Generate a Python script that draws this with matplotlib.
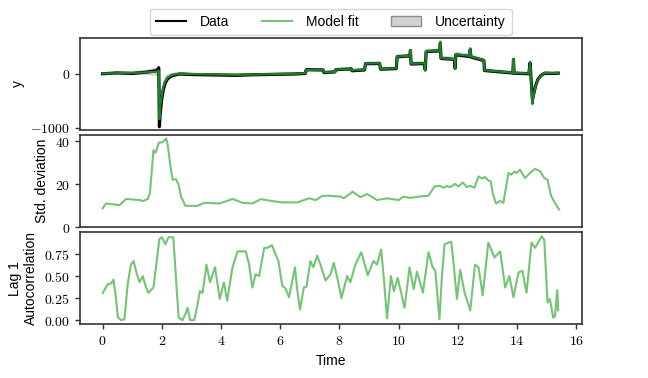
import numpy as np
import matplotlib
matplotlib.use('Agg')
import matplotlib.pyplot as plt
from matplotlib.lines import Line2D
from matplotlib.patches import Patch
from matplotlib.ticker import MultipleLocator, FormatStrFormatter

plt.rcParams['font.family'] = ['Liberation Sans', 'DejaVu Sans']
plt.rcParams['mathtext.fontset'] = 'cm'
plt.rcParams['font.size'] = 10

# --- top panel: data, model fit and its uncertainty ---
fit_t = [0.0, 0.5, 1.0, 1.5, 1.85, 1.9, 1.92, 1.95, 2.0, 2.05, 2.12, 2.2, 2.35, 2.6,
         3.0, 3.5, 4.0, 4.5, 5.0, 5.5, 6.0, 6.5, 6.85, 6.88, 7.45, 7.48, 7.85, 7.88,
         8.4, 8.43, 8.85, 8.88, 9.36, 9.39, 9.92, 9.95, 10.38, 10.40, 10.42, 10.88,
         10.90, 10.93, 11.39, 11.41, 11.43, 11.89, 11.91, 11.93, 12.40, 12.42, 12.44,
         12.88, 12.90, 13.4, 13.86, 13.88, 13.90, 14.40, 14.44, 14.52, 14.56, 14.62,
         14.7, 14.8, 14.94, 15.2, 15.39]
fit_y = [5, 10, 15, 25, 40, 55, -840, -600, -400, -250, -140, -70, -20, 0,
         -5, -10, -15, -20, -15, -10, -5, 0, 10, 70, 75, 25, 30, 80,
         85, 65, 75, 190, 195, 90, 100, 320, 335, 440, 185, 195,
         60, 420, 430, 592, 290, 270, 90, 360, 330, 470, 320,
         250, 65, 40, 20, 280, 15, 5, 220, -560, -400, -250,
         -120, -40, 15, 12, 15]
fit_sd = [25, 25, 30, 50, 80, 90, 120, 130, 130, 120, 100, 70, 40, 30,
          25, 25, 25, 25, 25, 25, 25, 25, 25, 30, 30, 30, 30, 30,
          30, 30, 30, 35, 35, 35, 35, 40, 40, 40, 40, 40,
          40, 40, 40, 45, 45, 45, 45, 45, 45, 45, 45,
          40, 35, 35, 35, 35, 35, 35, 45, 90, 90, 80,
          60, 45, 35, 30, 30]
data_y = [0, 15, 5, 30, 60, 110, -980, -720, -470, -300, -170, -90, -35, -5,
          -15, -20, -25, -30, -20, -15, -10, -5, 5, 75, 70, 20, 35, 75,
          90, 55, 70, 185, 190, 85, 95, 315, 330, 430, 180, 190,
          70, 410, 425, 570, 285, 265, 100, 350, 320, 450, 310,
          245, 60, 35, 15, 260, 10, 0, 200, -480, -380, -240,
          -110, -35, 10, 5, 10]

# --- middle panel: standard deviation ---
sd_t = [0.0, 0.12, 0.57, 0.8, 1.25, 1.36, 1.53, 1.6, 1.72, 1.79, 1.84, 1.9, 2.03,
        2.15, 2.2, 2.31, 2.37, 2.48, 2.57, 2.65, 2.8, 3.21, 3.43, 3.94, 4.17,
        4.39, 4.73, 5.06, 5.35, 5.74, 6.07, 6.58, 6.97, 7.2, 7.42, 7.65, 8.04,
        8.15, 8.45, 8.71, 8.94, 9.27, 9.61, 10.0, 10.17, 10.39, 10.68, 11.01,
        11.21, 11.4, 11.52, 11.63, 11.74, 11.91, 12.02, 12.17, 12.3, 12.42,
        12.56, 12.7, 12.81, 12.92, 13.03, 13.11, 13.18, 13.29, 13.43, 13.54,
        13.71, 13.8, 13.91, 13.99, 14.1, 14.27, 14.44, 14.61, 14.78, 14.92,
        15.03, 15.15, 15.28, 15.42]
sd_y = [8.7, 11.0, 10.2, 13.1, 12.6, 12.1, 13.1, 15.8, 35.8, 34.6, 36.5, 39.3, 39.5,
        41.2, 38.5, 26.7, 22.0, 22.3, 19.7, 14.2, 9.9, 9.9, 11.3, 11.0, 12.0,
        13.1, 11.3, 11.0, 13.0, 12.1, 11.5, 11.5, 13.4, 12.6, 14.5, 14.6, 14.2,
        13.4, 16.5, 13.9, 15.4, 12.6, 13.4, 12.6, 14.2, 13.6, 14.2, 14.6,
        18.9, 19.2, 18.3, 19.1, 18.6, 20.1, 18.9, 20.8, 18.6, 19.2,
        18.3, 23.6, 22.6, 23.3, 21.7, 21.3, 15.7, 11.0, 12.2, 11.3,
        25.2, 24.4, 25.8, 25.2, 26.7, 22.8, 25.2, 27.1, 26.0, 22.8,
        22.0, 14.5, 11.3, 8.2]

# --- bottom panel: lag 1 autocorrelation ---
ac_t = [0.01, 0.18, 0.29, 0.37, 0.44, 0.52, 0.63, 0.74, 0.85, 0.96, 1.05, 1.16,
        1.25, 1.36, 1.45, 1.55, 1.72, 1.83, 1.92, 2.01, 2.12, 2.23, 2.39, 2.48,
        2.57, 2.7, 2.8, 2.87, 2.96, 3.1, 3.21, 3.29, 3.38, 3.51, 3.63, 3.8, 3.96,
        4.1, 4.21, 4.39, 4.56, 4.84, 4.95, 5.06, 5.17, 5.29, 5.46, 5.57, 5.72,
        5.94, 6.07, 6.18, 6.3, 6.5, 6.58, 6.67, 6.8, 6.89, 7.02, 7.12, 7.25, 7.36,
        7.53, 7.7, 7.81, 7.93, 8.07, 8.26, 8.37, 8.54, 8.74, 8.96, 9.15, 9.27,
        9.41, 9.5, 9.61, 9.74, 9.84, 9.97, 10.2, 10.37, 10.51, 10.62, 10.82,
        11.01, 11.15, 11.24, 11.38, 11.46, 11.55, 11.69, 11.78, 11.86, 11.97,
        12.08, 12.23, 12.42, 12.58, 12.7, 12.84, 13.03, 13.24, 13.43, 13.6,
        13.74, 13.88, 14.05, 14.18, 14.32, 14.49, 14.61, 14.83, 14.92, 15.03,
        15.11, 15.22, 15.28, 15.36, 15.39]
ac_y = [0.31, 0.41, 0.415, 0.46, 0.29, 0.03, 0.0, 0.01, 0.41, 0.63, 0.67, 0.52,
        0.43, 0.50, 0.39, 0.31, 0.37, 0.67, 0.92, 0.94, 0.86, 0.94, 0.94, 0.48,
        0.03, 0.0, 0.07, 0.14, 0.0, 0.0, 0.18, 0.33, 0.31, 0.63, 0.43, 0.60, 0.24,
        0.43, 0.22, 0.60, 0.78, 0.78, 0.63, 0.37, 0.52, 0.50, 0.82, 0.82, 0.85,
        0.67, 0.39, 0.36, 0.26, 0.60, 0.33, 0.12, 0.37, 0.38, 0.67, 0.60, 0.73, 0.63,
        0.45, 0.52, 0.65, 0.48, 0.25, 0.50, 0.43, 0.63, 0.77, 0.51, 0.67, 0.63,
        0.80, 0.48, 0.02, 0.50, 0.33, 0.48, 0.14, 0.60, 0.35, 0.55, 0.31,
        0.77, 0.60, 0.56, 0.01, 0.48, 0.86, 0.88, 0.89, 0.63, 0.24,
        0.57, 0.31, 0.11, 0.63, 0.60, 0.28, 0.88, 0.71, 0.78, 0.37,
        0.50, 0.26, 0.54, 0.56, 0.31, 0.88, 0.82, 0.95, 0.91, 0.20,
        0.24, 0.03, 0.04, 0.34, 0.11]

light_green = '#74c476'
dark_green = '#1f7f2a'
spine_col = '#333333'

fig, axes = plt.subplots(3, 1, sharex=True, figsize=(6.48, 3.78), dpi=100)
fig.subplots_adjust(left=0.123, right=0.898, top=0.900, bottom=0.142, hspace=0.055)
ax1, ax2, ax3 = axes

fit_t_arr = np.array(fit_t)
fit_y_arr = np.array(fit_y)
fit_sd_arr = np.array(fit_sd)
ax1.fill_between(fit_t_arr, fit_y_arr - fit_sd_arr, fit_y_arr + fit_sd_arr,
                 facecolor='0.5', alpha=0.35, lw=0, zorder=1)
ax1.plot(fit_t, data_y, color='black', lw=2.3, zorder=2, solid_joinstyle='round')
ax1.plot(fit_t, fit_y, color=dark_green, lw=1.6, zorder=3, solid_joinstyle='round')
ax1.set_ylim(-1040, 665)
ax1.yaxis.set_major_locator(MultipleLocator(1000))
ax1.yaxis.set_major_formatter(FormatStrFormatter('$%d$'))
ax1.set_ylabel('y')

ax2.plot(sd_t, sd_y, color=light_green, lw=1.5, solid_joinstyle='round')
ax2.set_ylim(bottom=0)
ax2.yaxis.set_major_locator(MultipleLocator(20))
ax2.yaxis.set_major_formatter(FormatStrFormatter('$%d$'))
ax2.set_ylabel('Std. deviation')

ax3.plot(ac_t, ac_y, color=light_green, lw=1.5, solid_joinstyle='round')
ax3.yaxis.set_major_locator(MultipleLocator(0.25))
ax3.yaxis.set_major_formatter(FormatStrFormatter('$%.2f$'))
ax3.xaxis.set_major_locator(MultipleLocator(2))
ax3.xaxis.set_major_formatter(FormatStrFormatter('$%d$'))
ax3.set_ylabel('Lag 1\nAutocorrelation')
ax3.set_xlabel('Time')

for ax in axes:
    for sp in ax.spines.values():
        sp.set_color(spine_col)
        sp.set_linewidth(1.2)
    ax.tick_params(colors=spine_col, labelcolor='black', width=1.0, labelsize=10)
for ax in (ax1, ax2):
    ax.tick_params(axis='x', bottom=False)

handles = [Line2D([], [], color='black', lw=1.5),
           Line2D([], [], color=light_green, lw=1.5),
           Patch(facecolor='0.82', edgecolor='0.55')]
ax1.legend(handles, ['Data', 'Model fit', 'Uncertainty'], ncol=3,
           loc='lower center', bbox_to_anchor=(0.5, 1.03), borderaxespad=0.0,
           handlelength=2.2, handletextpad=1.0, columnspacing=2.3, borderpad=0.45)

fig.savefig('out.png', dpi=100)
